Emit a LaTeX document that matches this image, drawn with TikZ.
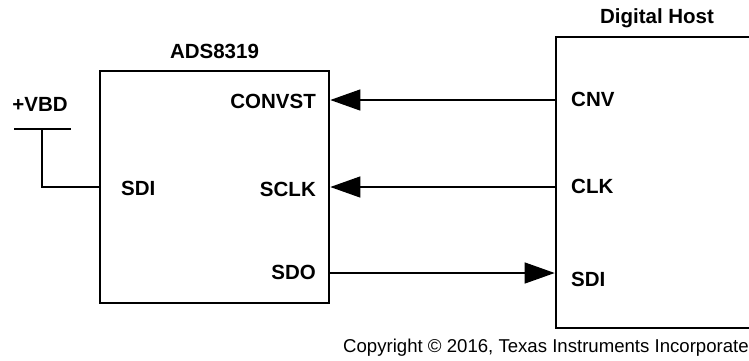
\documentclass[tikz,border=0pt]{standalone}
\usepackage{fontspec}
\setmainfont{Liberation Sans}
\usetikzlibrary{arrows.meta}
\begin{document}
\begin{tikzpicture}[x=1pt,y=-1pt,
  box/.style={draw, line width=2.6pt, inner sep=0pt},
  lbl/.style={font=\fontsize{20.5}{24}\selectfont\bfseries, inner sep=0pt},
  conn/.style={line width=1.3pt},
  arr/.style={conn, -{Triangle[length=30pt,width=21pt]}}]
\useasboundingbox (0,0) rectangle (749,360);
% boxes
\node[box, minimum width=229pt, minimum height=232pt] (ads) at (214.5,187) {};
\node[box, minimum width=300pt, minimum height=291pt] (host) at (706,182.5) {};
% titles
\node[lbl] (adst) at (214.5,51) {ADS8319};
\node[lbl] (hostt) at (657,18) {Digital Host};
% levels
\coordinate (yconv) at (0,100);
\coordinate (yclk) at (0,187);
\coordinate (ysdo) at (0,273);
% ADS pins
\node[lbl, anchor=east] (convst) at (316,101) {CONVST};
\node[lbl, anchor=east] (sclk) at (316,189) {SCLK};
\node[lbl, anchor=east] (sdo) at (316,272) {SDO};
\node[lbl, anchor=west] (sdiA) at (121,188) {SDI};
% host pins
\node[lbl, anchor=west] (cnv) at (571,99) {CNV};
\node[lbl, anchor=west] (clk) at (571,186) {CLK};
\node[lbl, anchor=west] (sdiH) at (571,279) {SDI};
% +VBD
\node[lbl] (vbd) at (40,104) {+VBD};
\coordinate (vbdL) at (14,129);
\coordinate (vbdR) at (71,129);
\coordinate (vbdM) at (42,129);
\draw[conn] (vbdL) -- (vbdR);
\draw[conn] (vbdM) |- (ads.west |- yclk);
% connectors
\draw[arr] (host.west |- yconv) -- (ads.east |- yconv);
\draw[arr] (host.west |- yclk) -- (ads.east |- yclk);
\draw[arr] (ads.east |- ysdo) -- (host.west |- ysdo);
% copyright
\node[font=\fontsize{18.6}{22}\selectfont, anchor=west, inner sep=0pt] (copy) at (343,348) {Copyright © 2016, Texas Instruments Incorporated};
\end{tikzpicture}
\end{document}
